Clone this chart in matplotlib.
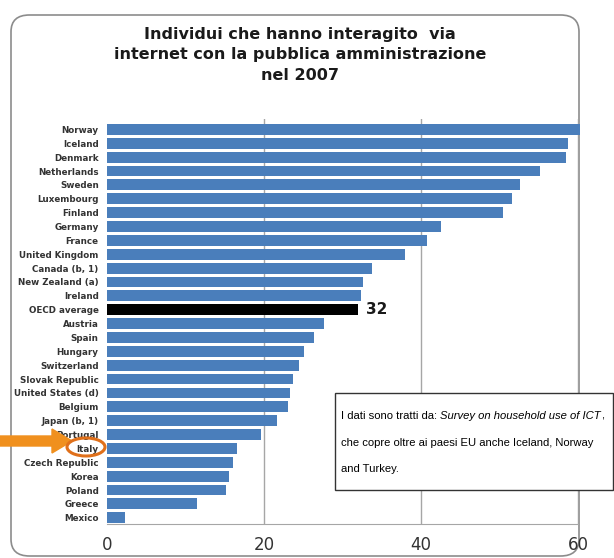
import matplotlib.pyplot as plt
from matplotlib.patches import FancyBboxPatch, Ellipse, FancyArrow, Rectangle

# dati: percentuale di individui (lettura dal grafico)
paesi = ["Norway", "Iceland", "Denmark", "Netherlands", "Sweden", "Luxembourg",
         "Finland", "Germany", "France", "United Kingdom", "Canada (b, 1)",
         "New Zealand (a)", "Ireland", "OECD average", "Austria", "Spain",
         "Hungary", "Switzerland", "Slovak Republic", "United States (d)",
         "Belgium", "Japan (b, 1)", "Portugal", "Italy", "Czech Republic",
         "Korea", "Poland", "Greece", "Mexico"]
valori = [60.3, 58.7, 58.5, 55.2, 52.6, 51.6, 50.4, 42.6, 40.8, 38.0, 33.7,
          32.6, 32.4, 32.0, 27.6, 26.4, 25.1, 24.5, 23.7, 23.3, 23.1, 21.7,
          19.6, 16.6, 16.0, 15.5, 15.1, 11.5, 2.3]
oecd_label = "32"
x_ticks = [0, 20, 40, 60]

titolo = "Individui che hanno interagito  via\ninternet con la pubblica amministrazione\nnel 2007"
nota = ["I dati sono tratti da: ", "Survey on household use of ICT", ",",
        "che copre oltre ai paesi EU anche Iceland, Norway", "and Turkey."]

fig = plt.figure(figsize=(6.14, 5.58), dpi=100)
W, H = 614, 558

def fx(px):
    return px / W

def fy(py):
    return 1 - py / H

# cornice arrotondata
frame = FancyBboxPatch((fx(11), fy(556)), fx(579) - fx(11), fy(15) - fy(556),
                       boxstyle="round,pad=0,rounding_size=0.03",
                       transform=fig.transFigure, facecolor="none",
                       edgecolor="#8c8c8c", linewidth=1.2, zorder=-1)
fig.patches.append(frame)

fig.text(fx(300), fy(55), titolo, ha="center", va="center", fontsize=11.5,
         fontweight="bold", color="#1a1a1a", linespacing=1.45)

ax = fig.add_axes([fx(107), fy(524), fx(578) - fx(107), fy(119) - fy(524)])
ax.patch.set_alpha(0)

colori = ["black" if p == "OECD average" else "#4A7EBB" for p in paesi]
ypos = list(range(len(paesi)))
bars = ax.barh(ypos, valori, height=0.78, color=colori, zorder=2)
for b in bars:
    b.set_clip_on(False)
ax.set_ylim(len(paesi) - 0.55, -0.75)
ax.set_xlim(0, 60)

ax.set_yticks(ypos)
ax.set_yticklabels(paesi, fontsize=6.3, fontweight="bold", color="#333333")
ax.set_xticks(x_ticks)
ax.set_xticklabels([str(t) for t in x_ticks], fontsize=12, color="#333333")
ax.tick_params(axis="both", length=0)
ax.tick_params(axis="x", pad=9)
ax.tick_params(axis="y", pad=6)

ax.grid(axis="x", color="#a6a6a6", linewidth=1, zorder=0)
ax.xaxis.get_gridlines()[0].set_visible(False)
for s in ["top", "right", "left"]:
    ax.spines[s].set_visible(False)
ax.spines["bottom"].set_color("#a6a6a6")

i_oecd = paesi.index("OECD average")
ax.text(valori[i_oecd] + 1.0, i_oecd, oecd_label, va="center", ha="left",
        fontsize=11, fontweight="bold", color="#1a1a1a")

# riquadro nota
box = Rectangle((fx(335), fy(490)), fx(613) - fx(335), fy(393) - fy(490),
                transform=fig.transFigure, facecolor="white",
                edgecolor="#333333", linewidth=1.0, zorder=5)
fig.patches.append(box)
fam = ["Liberation Sans Narrow", "Liberation Sans", "DejaVu Sans"]
fs_nota = 8.1
t1 = fig.text(fx(341), fy(416), nota[0], fontsize=fs_nota, family=fam,
              va="center", ha="left", zorder=6)
fig.canvas.draw()
bb = t1.get_window_extent()
t2 = fig.text(bb.x1 / W, fy(416), nota[1], fontsize=fs_nota, family=fam,
              style="italic", va="center", ha="left", zorder=6)
fig.canvas.draw()
bb2 = t2.get_window_extent()
fig.text(bb2.x1 / W, fy(416), nota[2], fontsize=fs_nota, family=fam,
         va="center", ha="left", zorder=6)
fig.text(fx(341), fy(443), nota[3], fontsize=fs_nota, family=fam,
         va="center", ha="left", zorder=6)
fig.text(fx(341), fy(469), nota[4], fontsize=fs_nota, family=fam,
         va="center", ha="left", zorder=6)

# freccia ed ellisse arancioni su Italy
arancio = "#F0901E"
arrow = FancyArrow(fx(0), fy(441), fx(72), 0, width=10 / H, head_width=24 / H,
                   head_length=fx(20), length_includes_head=True,
                   transform=fig.transFigure, color=arancio, zorder=4)
fig.patches.append(arrow)
ell = Ellipse((fx(86), fy(447)), fx(38), 18 / H, transform=fig.transFigure,
              fill=False, edgecolor="#E0701A", linewidth=2.2, zorder=4)
fig.patches.append(ell)

plt.savefig("out.png", dpi=100)
